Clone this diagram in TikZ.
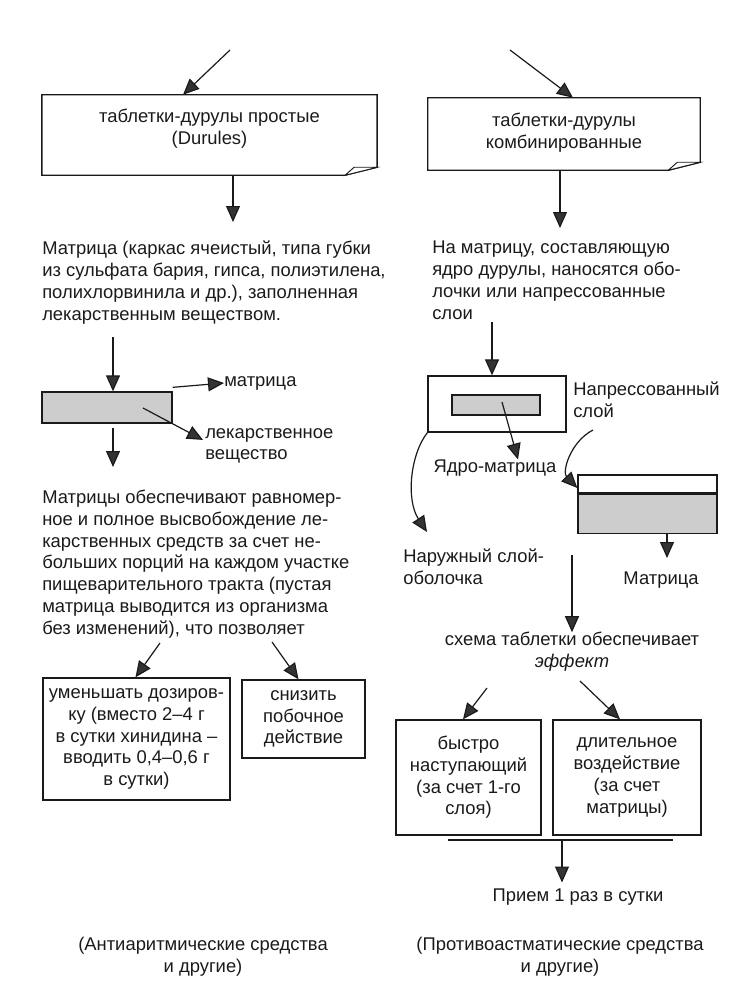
\documentclass[tikz,border=0pt]{standalone}
\usepackage{fontspec}
\setmainfont{Liberation Sans}
\usetikzlibrary{arrows.meta,calc,positioning}
\definecolor{Ink}     {HTML}{1A1A1A}
\definecolor{HeadGrey}{HTML}{333333}
\definecolor{FillGrey}{HTML}{CDCDCD}

\tikzset{
  body/.style={font=\fontsize{13.8}{16.3}\selectfont, text=Ink, inner sep=0pt},
  boxline/.style={draw=Ink, line width=1pt},
  tbox/.style={boxline, body, align=center},
  shadebox/.style={boxline, fill=FillGrey, inner sep=0pt},
  arr/.style={-{Triangle[length=12pt,width=10.5pt,fill=HeadGrey]}, line width=0.9pt, Ink},
}

\begin{document}
\begin{tikzpicture}[x=0.75pt, y=-0.75pt]
  \useasboundingbox (0,0) rectangle (753,1007);

  % ===== TOP BOXES =====
  \node[minimum width=251pt, minimum height=60pt] (simple) at (209.5,135) {};
  \node[body, align=center] (simpleTxt) at ($(simple.center)+(0,-6)$)
        {таблетки-дурулы простые\\(Durules)};
  \draw[boxline] (simple.north west) -- (simple.north east) -- ($(simple.south east)+(0,-8)$)
        -- ($(simple.south east)+(-32,0)$) -- (simple.south west) -- cycle;
  \draw[boxline, line width=0.7pt, fill=white] ($(simple.south east)+(-32,0)$)
        -- ($(simple.south east)+(-23,-8)$) -- ($(simple.south east)+(0,-8)$) -- cycle;

  \node[minimum width=204pt, minimum height=54pt] (comb) at (564,134) {};
  \node[body, align=center] (combTxt) at ($(comb.center)+(0,-1)$)
        {таблетки-дурулы\\комбинированные};
  \draw[boxline] (comb.north west) -- (comb.north east) -- ($(comb.south east)+(0,-8)$)
        -- ($(comb.south east)+(-32,0)$) -- (comb.south west) -- cycle;
  \draw[boxline, line width=0.7pt, fill=white] ($(comb.south east)+(-32,0)$)
        -- ($(comb.south east)+(-23,-8)$) -- ($(comb.south east)+(0,-8)$) -- cycle;

  % incoming and outgoing arrows
  \coordinate (inL) at (230,50);
  \coordinate (inR) at (510,50);
  \draw[arr] (inL) -- ($(simple.north)+(-26.5,0)$);
  \draw[arr] (inR) -- ($(comb.north)+(9,0)$);
  \coordinate (dnL) at (233,222);
  \coordinate (dnR) at (560,228);
  \draw[arr] ($(simple.south)+(23.5,0)$) -- (dnL);
  \draw[arr] ($(comb.south)+(-4,0)$) -- (dnR);

  % ===== LEFT COLUMN: simple durules =====
  \node[body, align=left, anchor=north west] (matL) at (42,241)
        {Матрица (каркас ячеистый, типа губки\\из сульфата бария, гипса, полиэтилена,\\
         полихлорвинила и др.), заполненная\\лекарственным веществом.};

  \coordinate (mL1) at (113,337);
  \node[shadebox, minimum width=97.5pt, minimum height=23.25pt] (drug) at (107,407.5) {};
  \draw[arr] (mL1) -- ($(drug.north)+(6,0)$);

  \node[body, anchor=west] (lblMat) at (224,383) {матрица};
  \draw[arr] ($(drug.north east)+(0,-4)$) -- (lblMat.west);
  \node[body, align=left, anchor=north west] (lblDrug) at (205,428)
        {лекарственное\\вещество};
  \coordinate (inDrug) at (143,408);
  \draw[arr] (inDrug) -- ($(lblDrug.west)+(-2,-6)$);
  \coordinate (dnDrug) at (113,467);
  \draw[arr] ($(drug.south)+(6,4)$) -- (dnDrug);

  \node[body, align=left, anchor=north west] (effL) at (42,490)
        {Матрицы обеспечивают равномер-\\ное и полное высвобождение ле-\\
         карственных средств за счет не-\\больших порций на каждом участке\\
         пищеварительного тракта (пустая\\матрица выводится из организма\\
         без изменений), что позволяет};

  \node[tbox, minimum width=140.25pt, minimum height=91.5pt] (dose) at (136.5,739)
        {уменьшать дозиров-\\ку (вместо 2–4 г\\в сутки хинидина –\\вводить 0,4–0,6 г\\в сутки)};
  \node[tbox, minimum width=92.25pt, minimum height=58.5pt] (side) at (303.5,719)
        {снизить\\побочное\\действие};
  \coordinate (aDose) at (160,643);
  \coordinate (aSide) at (272,642);
  \draw[arr] (aDose) -- ($(dose.north)+(-1,0)$);
  \draw[arr] (aSide) -- ($(side.north)+(-5,0)$);

  \node[body, align=center] (notesL) at (203,957)
        {(Антиаритмические средства\\и другие)};

  % ===== RIGHT COLUMN: combined durules =====
  \node[body, align=left, anchor=north west] (matR) at (432,241)
        {На матрицу, составляющую\\ядро дурулы, наносятся обо-\\лочки или напрессованные\\слои};

  \node[boxline, minimum width=103.5pt, minimum height=42pt] (shell) at (497,404) {};
  \node[shadebox, minimum width=66pt, minimum height=15pt] (core) at (496,405) {};
  \coordinate (mR1) at (492,322);
  \draw[arr] (mR1) -- ($(shell.north)+(-5,0)$);

  \node[body] (lblCore) at (495,468) {Ядро-матрица};
  \coordinate (inCore) at (502,402);
  \draw[arr] (inCore) -- ($(lblCore.north)+(23,0)$);

  \node[body, align=left, anchor=north west] (lblLayer) at (573,382)
        {Напрессованный\\слой};

  % layered tablet
  \node[boxline, fill=white, minimum width=104.25pt, minimum height=13.5pt, inner sep=0pt]
        (layTop) at (647.5,484) {};
  \node[shadebox, minimum width=104.25pt, minimum height=29.25pt, anchor=north]
        (layBot) at (layTop.south) {};
  \coordinate (cLayer) at (593,430);
  \draw[arr] (cLayer) .. controls (570,442) and (562,472) .. ($(layTop.west)+(0,4)$);

  \coordinate (cOuter) at (427,532);
  \draw[arr] (shell.south west) .. controls (410,455) and (406,500) .. (cOuter);
  \node[body, align=left, anchor=north west] (lblOuter) at (403,549)
        {Наружный слой-\\оболочка};

  \coordinate (cMatTip) at (667,558);
  \draw[arr] ($(layBot.south)+(19.5,0)$) -- (cMatTip);
  \node[body] (lblMatR) at (661,580) {Матрица};

  % ===== EFFECT =====
  \coordinate (vTop) at (572,555);
  \node[body, align=center] (scheme) at (572,652)
        {схема таблетки обеспечивает\\\textit{эффект}};
  \draw[arr] (vTop) -- (scheme.north);

  \node[tbox, minimum width=108.75pt, minimum height=86.25pt] (fast) at (468.5,777.5)
        {быстро\\наступающий\\(за счет 1-го\\слоя)};
  \node[tbox, minimum width=111pt, minimum height=86.25pt] (long) at (627,777.5)
        {длительное\\воздействие\\(за счет\\матрицы)};
  \coordinate (aFast) at (487,688);
  \coordinate (aLong) at (580,681);
  \draw[arr] (aFast) -- ($(fast.north)+(-5.5,0)$);
  \draw[arr] (aLong) -- ($(long.north)+(-7,0)$);

  % bar under the two boxes
  \coordinate (barL) at (448,840);
  \coordinate (barR) at (673,840);
  \coordinate (barM) at (562,840);
  \draw[Ink, line width=1pt] (barL) -- (barR);

  \node[body] (daily) at (578,897) {Прием 1 раз в сутки};
  \draw[arr] (barM) -- ($(daily.north)+(-16,-6)$);

  \node[body, align=center] (notesR) at (560,957)
        {(Противоастматические средства\\и другие)};

\end{tikzpicture}
\end{document}
